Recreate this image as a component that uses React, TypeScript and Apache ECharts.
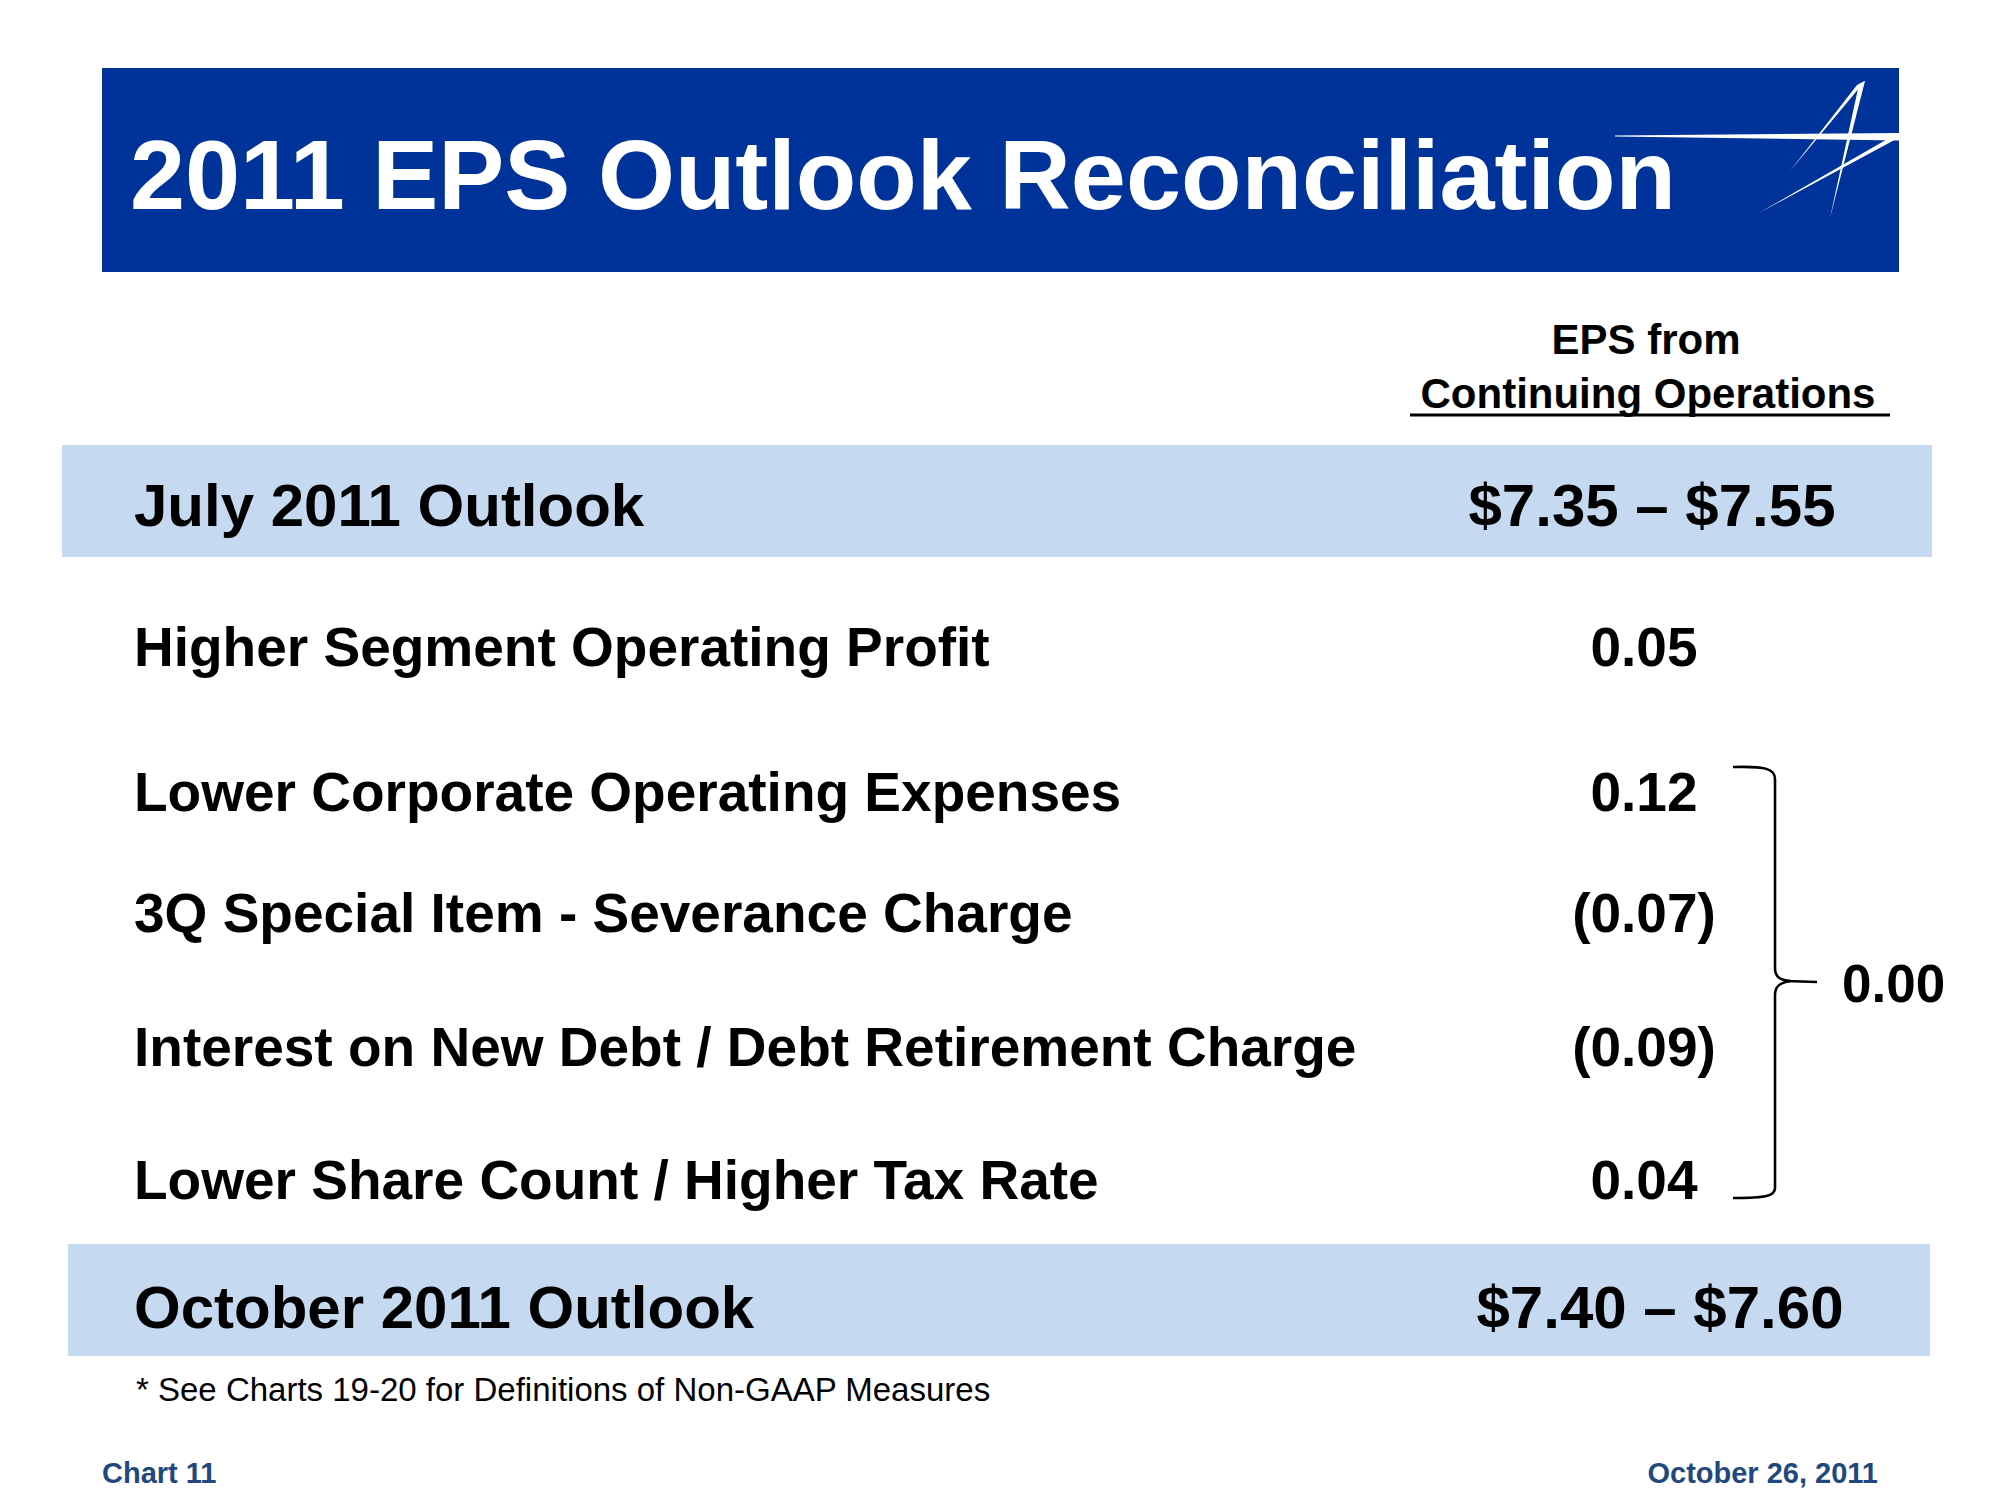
import React, { useEffect, useRef } from "react";
import * as echarts from "echarts";

// ---- data ----
const titleText = "2011 EPS Outlook Reconciliation";
const columnHeader = ["EPS from", "Continuing Operations"];
const startLabel = "July 2011 Outlook";
const startValue = "$7.35 – $7.55";
const itemLabels = [
  "Higher Segment Operating Profit",
  "Lower Corporate Operating Expenses",
  "3Q Special Item - Severance Charge",
  "Interest on New Debt / Debt Retirement Charge",
  "Lower Share Count / Higher Tax Rate",
];
const itemValues = ["0.05", "0.12", "(0.07)", "(0.09)", "0.04"];
const bracedTotal = "0.00";
const endLabel = "October 2011 Outlook";
const endValue = "$7.40 – $7.60";
const footnote = "* See Charts 19-20 for Definitions of Non-GAAP Measures";
const footerLeft = "Chart 11";
const footerRight = "October 26, 2011";

// ---- layout (kept separate from the data) ----
const itemY = [647, 792, 913, 1047, 1180];
const FONT = '"Liberation Sans", Arial, Helvetica, sans-serif';
const BLUE = "#003399";
const BAND = "#c5d9f1";
const DARK = "#1f497d";

export default function App() {
  const ref = useRef<HTMLDivElement>(null);
  useEffect(() => {
    if (!ref.current) return;
    const chart = echarts.init(ref.current, null, { renderer: "svg" });

    const txt = (
      text: string,
      x: number,
      y: number,
      size: number,
      opts: { bold?: boolean; align?: string; fill?: string } = {}
    ) => ({
      type: "text",
      x,
      y,
      style: {
        text,
        font: `${opts.bold === false ? "normal" : "bold"} ${size}px ${FONT}`,
        fill: opts.fill || "#000",
        align: opts.align || "left",
        verticalAlign: "middle",
      },
    });

    const white = { fill: "#fff" };
    const braceStyle = { stroke: "#000", lineWidth: 2.6, fill: "none" };

    const graphic: any[] = [
      // banner
      { type: "rect", shape: { x: 102, y: 68, width: 1797, height: 204 }, style: { fill: BLUE } },
      txt(titleText, 130, 174, 99, { fill: "#fff" }),
      // logo
      { type: "polygon", shape: { points: [[1615, 135.5], [1900, 133], [1900, 140.5], [1615, 136.5]] }, style: white },
      { type: "polygon", shape: { points: [[1857, 85], [1865, 81], [1790, 171]] }, style: white },
      { type: "polygon", shape: { points: [[1859, 84], [1865, 81], [1830, 218]] }, style: white },
      { type: "polygon", shape: { points: [[1891, 137], [1900, 137], [1757, 214]] }, style: white },
      // column header
      txt(columnHeader[0], 1646, 339, 42, { align: "center" }),
      txt(columnHeader[1], 1648, 393, 42, { align: "center" }),
      { type: "line", shape: { x1: 1410, y1: 415, x2: 1890, y2: 415 }, style: { stroke: "#000", lineWidth: 3 } },
      // start band
      { type: "rect", shape: { x: 62, y: 445, width: 1870, height: 112 }, style: { fill: BAND } },
      txt(startLabel, 134, 505, 60),
      txt(startValue, 1652, 505, 60, { align: "center" }),
      // end band
      { type: "rect", shape: { x: 68, y: 1244, width: 1862, height: 112 }, style: { fill: BAND } },
      txt(endLabel, 134, 1307, 60),
      txt(endValue, 1660, 1307, 60, { align: "center" }),
      // brace
      { type: "bezierCurve", shape: { x1: 1733, y1: 767, cpx1: 1766, cpy1: 766, cpx2: 1775, cpy2: 769, x2: 1775, y2: 779 }, style: braceStyle },
      { type: "line", shape: { x1: 1775, y1: 779, x2: 1775, y2: 968 }, style: braceStyle },
      { type: "bezierCurve", shape: { x1: 1775, y1: 968, cpx1: 1775, cpy1: 977, cpx2: 1780, cpy2: 980, x2: 1790, y2: 981 }, style: braceStyle },
      { type: "bezierCurve", shape: { x1: 1790, y1: 981, cpx1: 1780, cpy1: 983, cpx2: 1775, cpy2: 986, x2: 1775, y2: 995 }, style: braceStyle },
      { type: "line", shape: { x1: 1786, y1: 981, x2: 1817, y2: 982 }, style: braceStyle },
      { type: "line", shape: { x1: 1775, y1: 995, x2: 1775, y2: 1188 }, style: braceStyle },
      { type: "bezierCurve", shape: { x1: 1775, y1: 1188, cpx1: 1775, cpy1: 1196, cpx2: 1766, cpy2: 1198, x2: 1733, y2: 1198 }, style: braceStyle },
      txt(bracedTotal, 1842, 983, 53),
      // footnote and footer
      txt(footnote, 136, 1389, 33, { bold: false }),
      txt(footerLeft, 102, 1473, 29, { fill: DARK }),
      txt(footerRight, 1878, 1473, 29, { fill: DARK, align: "right" }),
    ];

    itemLabels.forEach((label, i) => {
      graphic.push(txt(label, 134, itemY[i], 55));
      graphic.push(txt(itemValues[i], 1644, itemY[i], 55, { align: "center" }));
    });

    chart.setOption({
      animation: false,
      backgroundColor: "#ffffff",
      graphic,
    });
    return () => chart.dispose();
  }, []);

  return (
    <div
      ref={ref}
      style={{ position: "fixed", left: 0, top: 0, width: 2000, height: 1500, background: "#fff" }}
    />
  );
}
